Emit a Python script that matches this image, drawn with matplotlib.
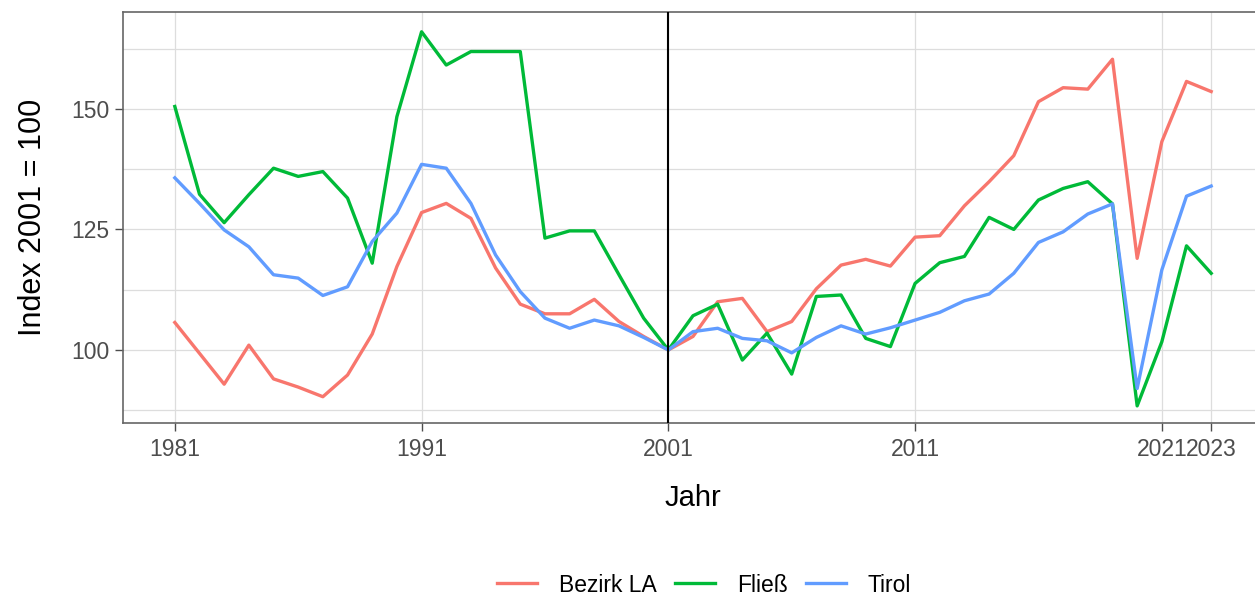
import matplotlib.pyplot as plt
import numpy as np

plt.rcParams['font.family'] = ['Liberation Sans', 'DejaVu Sans']

years = list(range(1981, 2024))

bezirk_la = [105.7, 99.3, 92.9, 101.0, 94.0, 92.3, 90.3, 94.8, 103.3, 117.3,
             128.5, 130.4, 127.3, 117.0, 109.5, 107.5, 107.5, 110.5, 105.9, 102.8,
             100.0, 102.8, 110.0, 110.7, 103.8, 105.9, 112.7, 117.6, 118.8, 117.4,
             123.4, 123.7, 129.9, 134.9, 140.3, 151.5, 154.4, 154.1, 160.3, 119.0,
             143.2, 155.7, 153.6]
fliess = [150.5, 132.3, 126.4, 132.2, 137.7, 136.0, 137.0, 131.5, 118.0, 148.4,
          166.0, 159.1, 161.9, 161.9, 161.9, 123.2, 124.7, 124.7, 115.6, 106.6,
          100.0, 107.1, 109.5, 97.9, 103.5, 95.0, 111.1, 111.4, 102.4, 100.7,
          113.8, 118.1, 119.4, 127.5, 125.0, 131.1, 133.5, 134.9, 130.3, 88.4,
          101.7, 121.6, 115.9]
tirol = [135.7, 130.4, 124.9, 121.4, 115.6, 114.9, 111.3, 113.1, 122.5, 128.4,
         138.5, 137.7, 130.4, 119.7, 112.1, 106.6, 104.5, 106.2, 105.0, 102.6,
         100.0, 103.8, 104.5, 102.4, 101.9, 99.4, 102.6, 105.0, 103.3, 104.6,
         106.2, 107.8, 110.2, 111.6, 115.9, 122.3, 124.5, 128.2, 130.3, 92.0,
         116.6, 131.9, 134.0]

series = [("Bezirk LA", bezirk_la, "#F8766D"),
          ("Fließ", fliess, "#00BA38"),
          ("Tirol", tirol, "#619CFF")]

x_ticks = [1981, 1991, 2001, 2011, 2021, 2023]
y_ticks = [100, 125, 150]
y_minor = [87.5, 112.5, 137.5, 162.5]

fig = plt.figure(figsize=(12.55, 5.95), dpi=100)
ax = fig.add_axes([123 / 1255, 172 / 595, 1140 / 1255, 411 / 595])

for yv in y_ticks + y_minor:
    ax.axhline(yv, color="#DDDDDD", lw=0.9, zorder=0)
for xv in x_ticks:
    ax.axvline(xv, color="#DDDDDD", lw=0.9, zorder=0)

for name, vals, col in series:
    ax.plot(years, vals, color=col, lw=2.4, label=name, zorder=2)

ax.axvline(2001, color="black", lw=1.5, zorder=3)

ax.set_xlim(1978.9, 2025.1)
ax.set_ylim(84.85, 170.1)
ax.set_xticks(x_ticks)
ax.set_yticks(y_ticks)
ax.tick_params(axis="both", labelsize=16.5, colors="#4D4D4D", length=5.5, width=1)
ax.tick_params(axis="x", pad=5)
ax.tick_params(axis="y", pad=4)

for side in ["left", "bottom", "top"]:
    ax.spines[side].set_color("#666666")
    ax.spines[side].set_linewidth(1.2)
ax.spines["right"].set_visible(False)

ax.set_xlabel("Jahr", fontsize=21, labelpad=17)
ax.set_ylabel("Index 2001 = 100", fontsize=22, labelpad=17)

fig.legend(loc="center", bbox_to_anchor=(704 / 1255, 1 - 585 / 595), ncol=3,
           frameon=False, fontsize=16.5, handlelength=1.75, handletextpad=0.95,
           columnspacing=0.8)

fig.savefig("out.png", dpi=100)
